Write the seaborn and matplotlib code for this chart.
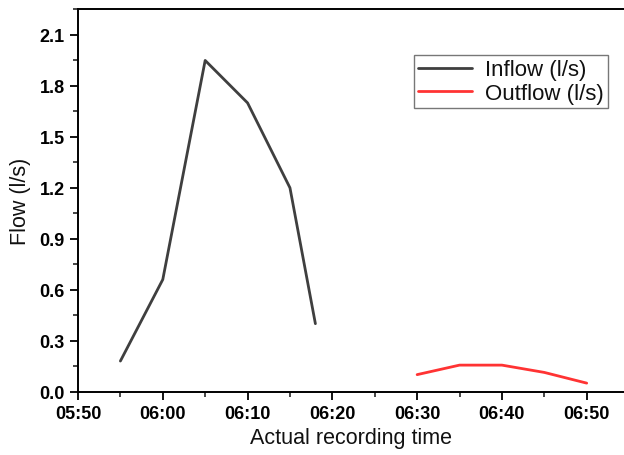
import matplotlib
matplotlib.use("Agg")
import matplotlib.pyplot as plt
from matplotlib.ticker import MultipleLocator, FuncFormatter
import seaborn as sns
import pandas as pd

inflow_times = ["05:55", "06:00", "06:05", "06:10", "06:15", "06:18"]
inflow_values = [0.18, 0.66, 1.95, 1.70, 1.20, 0.40]
outflow_times = ["06:30", "06:35", "06:40", "06:45", "06:50"]
outflow_values = [0.10, 0.156, 0.156, 0.113, 0.05]
series_names = ["Inflow (l/s)", "Outflow (l/s)"]
START = "05:50"

def to_min(t):
    h, m = t.split(":")
    return int(h) * 60 + int(m)

base = to_min(START)
df = pd.DataFrame({
    "t": [to_min(t) - base for t in inflow_times] + [to_min(t) - base for t in outflow_times],
    "flow": inflow_values + outflow_values,
    "series": [series_names[0]] * len(inflow_times) + [series_names[1]] * len(outflow_times),
})

sns.set_style("ticks")
plt.rcParams["font.family"] = ["Liberation Sans", "DejaVu Sans"]
plt.rcParams["text.color"] = "#111111"
plt.rcParams["axes.labelcolor"] = "#111111"

fig = plt.figure(figsize=(6.24, 4.56), dpi=100)
ax = fig.add_axes([0.125, 0.139, 0.875, 0.838])

sns.lineplot(data=df, x="t", y="flow", hue="series",
             palette={series_names[0]: "#3f3f3f", series_names[1]: "#ff3333"},
             linewidth=2.0, ax=ax, legend=True, estimator=None, sort=False)

ax.set_xlim(0, 64.4)
ax.set_ylim(0, 2.25)
ax.xaxis.set_major_locator(MultipleLocator(10))
ax.xaxis.set_minor_locator(MultipleLocator(5))
ax.yaxis.set_major_locator(MultipleLocator(0.3))
ax.yaxis.set_minor_locator(MultipleLocator(0.15))
ax.xaxis.set_major_formatter(FuncFormatter(lambda v, p: f"{int(base + v) // 60:02d}:{int(base + v) % 60:02d}"))
ax.yaxis.set_major_formatter(FuncFormatter(lambda v, p: f"{v:.1f}"))

ax.tick_params(axis="both", which="major", direction="out", length=6, width=1.3,
               labelsize=13, colors="black")
ax.tick_params(axis="both", which="minor", direction="out", length=3.5, width=1.2)
for lab in ax.get_xticklabels() + ax.get_yticklabels():
    lab.set_fontweight("bold")

for s in ["left", "bottom", "top"]:
    ax.spines[s].set_linewidth(1.4)
    ax.spines[s].set_color("black")
ax.spines["right"].set_visible(False)

ax.set_xlabel("Actual recording time", fontsize=15.5, labelpad=4)
ax.set_ylabel("Flow (l/s)", fontsize=15.5, labelpad=6)

leg = ax.legend(loc="upper left", bbox_to_anchor=(0.615, 0.881), borderaxespad=0,
                fontsize=16, frameon=True, fancybox=False, handlelength=2.4,
                handletextpad=0.6, borderpad=0.2, labelspacing=0.1)
leg.get_frame().set_edgecolor("#555555")
leg.get_frame().set_linewidth(1.0)
for line in leg.get_lines():
    line.set_linewidth(2.0)

fig.savefig("out.png", dpi=100)
